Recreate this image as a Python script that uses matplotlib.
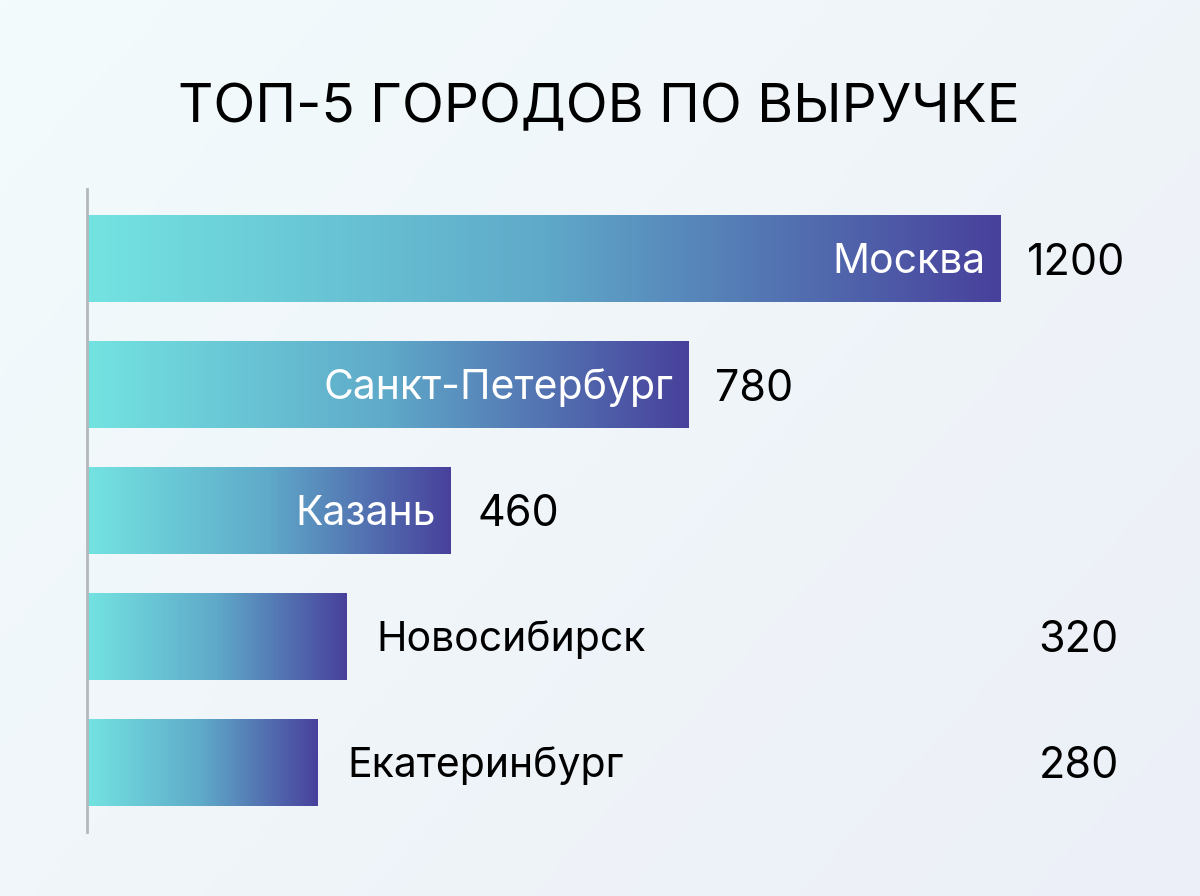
import numpy as np
import matplotlib
matplotlib.use("Agg")
import matplotlib.pyplot as plt
import matplotlib.transforms as mtransforms
from matplotlib.colors import LinearSegmentedColormap

# ---- data ----
cities = ["Москва", "Санкт-Петербург", "Казань", "Новосибирск", "Екатеринбург"]
revenue = [1200, 780, 460, 320, 280]
title = "ТОП-5 ГОРОДОВ ПО ВЫРУЧКЕ"

# ---- style ----
FONT = ["Inter", "DejaVu Sans"]
plt.rcParams["font.family"] = FONT
BASE = -30          # left edge of the value axis
XMAX = 1400
INSIDE_MIN = 400    # bars at least this long carry their label inside
c_start = "#73e3e1"
c_end = "#48419c"
cmap = LinearSegmentedColormap.from_list("bar", [c_start, "#5fa9c9", c_end])

W, H = 1200, 896
fig = plt.figure(figsize=(W / 100, H / 100), dpi=100)

# background gradient
bg = fig.add_axes([0, 0, 1, 1], zorder=-10)
gx, gy = np.meshgrid(np.linspace(0, 1, 200), np.linspace(0, 1, 150))
t = (gx * 0.6 + gy * 0.4)
c1 = np.array([243, 251, 252]) / 255
c2 = np.array([236, 239, 247]) / 255
img = c1[None, None, :] * (1 - t[..., None]) + c2[None, None, :] * t[..., None]
bg.imshow(img, aspect="auto", extent=[0, 1, 0, 1], origin="upper")
bg.set_axis_off()

ax = fig.add_axes([87 / W, 64 / H, 1061.5 / W, 643 / H])
ax.patch.set_alpha(0)
y = np.arange(len(cities))
bars = ax.barh(y, [v - BASE for v in revenue], left=BASE, height=0.69,
               facecolor="none", edgecolor="none")

grad = np.linspace(0, 1, 256)[None, :]
for b in bars:
    x0, y0 = b.get_x(), b.get_y()
    w, h = b.get_width(), b.get_height()
    im = ax.imshow(grad, cmap=cmap, aspect="auto",
                   extent=[x0, x0 + w, y0 + h, y0], zorder=2,
                   interpolation="bilinear")
    im.set_clip_path(b)

ax.set_xlim(BASE, XMAX)
ax.set_ylim(len(cities) - 0.448, -0.552)

for s in ["top", "right", "bottom"]:
    ax.spines[s].set_visible(False)
ax.spines["left"].set_color("#b4b8bc")
ax.spines["left"].set_linewidth(2)
ax.set_xticks([])
ax.set_yticks([])

value_x = mtransforms.blended_transform_factory(ax.transAxes, ax.transData)
for i, (c, v) in enumerate(zip(cities, revenue)):
    if v >= INSIDE_MIN:
        ax.annotate(c, xy=(v, i), xytext=(-15, -14.5), textcoords="offset pixels",
                    ha="right", va="baseline", color="white", fontsize=29.5, zorder=5)
        ax.annotate(str(v), xy=(v, i), xytext=(27, -16), textcoords="offset pixels",
                    ha="left", va="baseline", color="black", fontsize=31, zorder=5)
    else:
        ax.annotate(c, xy=(v, i), xytext=(30, -14.5), textcoords="offset pixels",
                    ha="left", va="baseline", color="black", fontsize=29.5, zorder=5)
        ax.annotate(str(v), xy=(0.972, i), xycoords=value_x, xytext=(0, -16),
                    textcoords="offset pixels", ha="right", va="baseline",
                    color="black", fontsize=31, zorder=5)

fig.text(599 / W, 1 - 122 / H, title, ha="center", va="baseline",
         fontsize=39.5, color="black")

fig.savefig("out.png", dpi=100)
